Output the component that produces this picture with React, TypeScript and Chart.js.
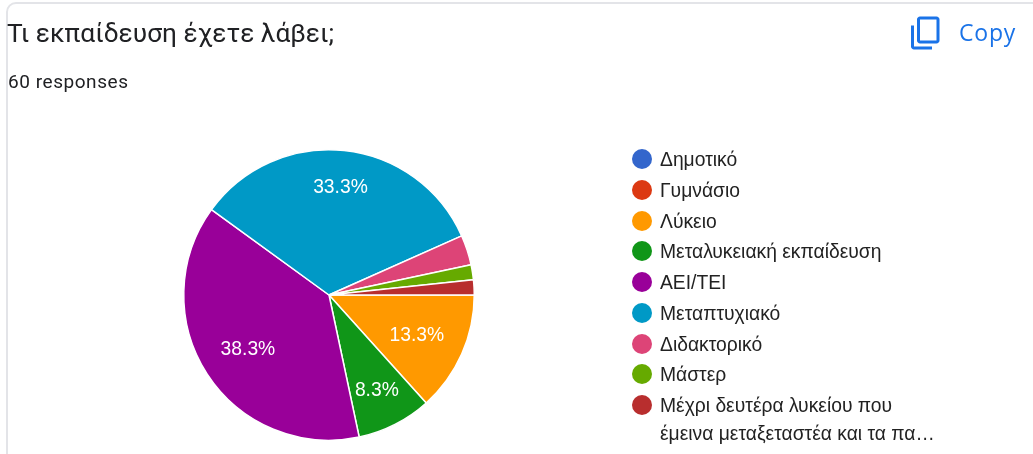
import React, { useEffect, useRef } from "react";
import { Chart, registerables } from "chart.js";

Chart.register(...registerables);

const title = "Τι εκπαίδευση έχετε λάβει;";
const subtitle = "60 responses";
const copyLabel = "Copy";
const categories = [
  "Δημοτικό",
  "Γυμνάσιο",
  "Λύκειο",
  "Μεταλυκειακή εκπαίδευση",
  "ΑΕΙ/ΤΕΙ",
  "Μεταπτυχιακό",
  "Διδακτορικό",
  "Μάστερ",
  "Μέχρι δευτέρα λυκείου που\nέμεινα μεταξεταστέα και τα πα…",
];
const counts = [0, 0, 8, 5, 23, 20, 2, 1, 1];
const colors = ["#3366cc", "#dc3912", "#ff9900", "#109618", "#990099", "#0099c6", "#dd4477", "#66aa00", "#b82e2e"];
const minLabelShare = 0.05;

const percentLabels = {
  id: "percentLabels",
  afterDatasetsDraw(chart: any) {
    const ctx = chart.ctx;
    const total = counts.reduce((a, b) => a + b, 0);
    ctx.save();
    ctx.font = '19.3px "Liberation Sans", Arial, sans-serif';
    ctx.fillStyle = "#ffffff";
    ctx.textAlign = "center";
    ctx.textBaseline = "middle";
    chart.getDatasetMeta(0).data.forEach((arc: any, i: number) => {
      const share = counts[i] / total;
      if (share < minLabelShare) return;
      const text = (share * 100).toFixed(1) + "%";
      const mid = (arc.startAngle + arc.endAngle) / 2;
      const c = Math.cos(mid);
      const s = Math.sin(mid);
      // push the label outward until the far corner of its box meets an inner circle
      const hw = ctx.measureText(text).width / 2;
      const hh = 10;
      const limit = arc.outerRadius * 0.862;
      const b = Math.abs(c) * hw + Math.abs(s) * hh;
      const r = -b + Math.sqrt(b * b - (hw * hw + hh * hh - limit * limit));
      ctx.fillText(text, arc.x + c * r, arc.y + s * r + 2);
    });
    ctx.restore();
  },
};

export default function App() {
  const ref = useRef<HTMLCanvasElement | null>(null);

  useEffect(() => {
    const chart = new Chart(ref.current as HTMLCanvasElement, {
      type: "pie",
      data: {
        labels: categories,
        datasets: [
          {
            data: counts,
            backgroundColor: colors,
            borderColor: "#ffffff",
            borderWidth: 1.5,
          },
        ],
      },
      options: {
        animation: false,
        responsive: false,
        rotation: 90,
        layout: { padding: { left: 183, right: 558, top: 149, bottom: 13 } },
        plugins: { legend: { display: false }, tooltip: { enabled: false } },
      } as any,
      plugins: [percentLabels],
    });
    return () => chart.destroy();
  }, []);

  return (
    <div style={{ position: "fixed", left: 0, top: 0, width: 1033, height: 454, background: "#fff", overflow: "hidden" }}>
      <div
        style={{
          position: "absolute",
          left: 6,
          top: 2,
          width: 1100,
          height: 470,
          boxSizing: "border-box",
          border: "2px solid #e3e4e8",
          borderRadius: 10,
        }}
      />
      <canvas ref={ref} width={1033} height={454} style={{ position: "absolute", left: 0, top: 0, display: "block" }} />
      <div
        style={{
          position: "absolute",
          left: 7,
          top: 17,
          font: '26.3px Roboto, sans-serif',
          lineHeight: "32px",
          color: "#202124",
          whiteSpace: "nowrap",
        }}
      >
        {title}
      </div>
      <div
        style={{
          position: "absolute",
          left: 8,
          top: 71,
          font: '19px Roboto, sans-serif',
          lineHeight: "22px",
          color: "#202124",
          whiteSpace: "nowrap",
          letterSpacing: 0.55,
        }}
      >
        {subtitle}
      </div>
      <svg
        style={{ position: "absolute", left: 908, top: 15, transform: "scaleY(-1)" }}
        width={36}
        height={36}
        viewBox="0 0 24 24"
        fill="#1a73e8"
      >
        <path d="M16 1H4c-1.1 0-2 .9-2 2v14h2V3h12V1zm3 4H8c-1.1 0-2 .9-2 2v14c0 1.1.9 2 2 2h11c1.1 0 2-.9 2-2V7c0-1.1-.9-2-2-2zm0 16H8V7h11v14z" />
      </svg>
      <div
        style={{
          position: "absolute",
          left: 959,
          top: 18,
          font: '500 23px "Open Sans", sans-serif',
          lineHeight: "28px",
          color: "#1a73e8",
          whiteSpace: "nowrap",
          letterSpacing: 0.8,
        }}
      >
        {copyLabel}
      </div>
      <div style={{ position: "absolute", left: 632, top: 146 }}>
        {categories.map((name, i) => (
          <div key={name} style={{ display: "flex", alignItems: "flex-start", height: 30.75 }}>
            <span
              style={{
                width: 20,
                height: 20,
                borderRadius: "50%",
                background: colors[i],
                marginTop: 3,
                marginRight: 8,
                flex: "none",
              }}
            />
            <span
              style={{
                font: '19.3px "Liberation Sans", Arial, sans-serif',
                lineHeight: "27.5px",
                color: "#222222",
                whiteSpace: "pre",
              }}
            >
              {name}
            </span>
          </div>
        ))}
      </div>
    </div>
  );
}
